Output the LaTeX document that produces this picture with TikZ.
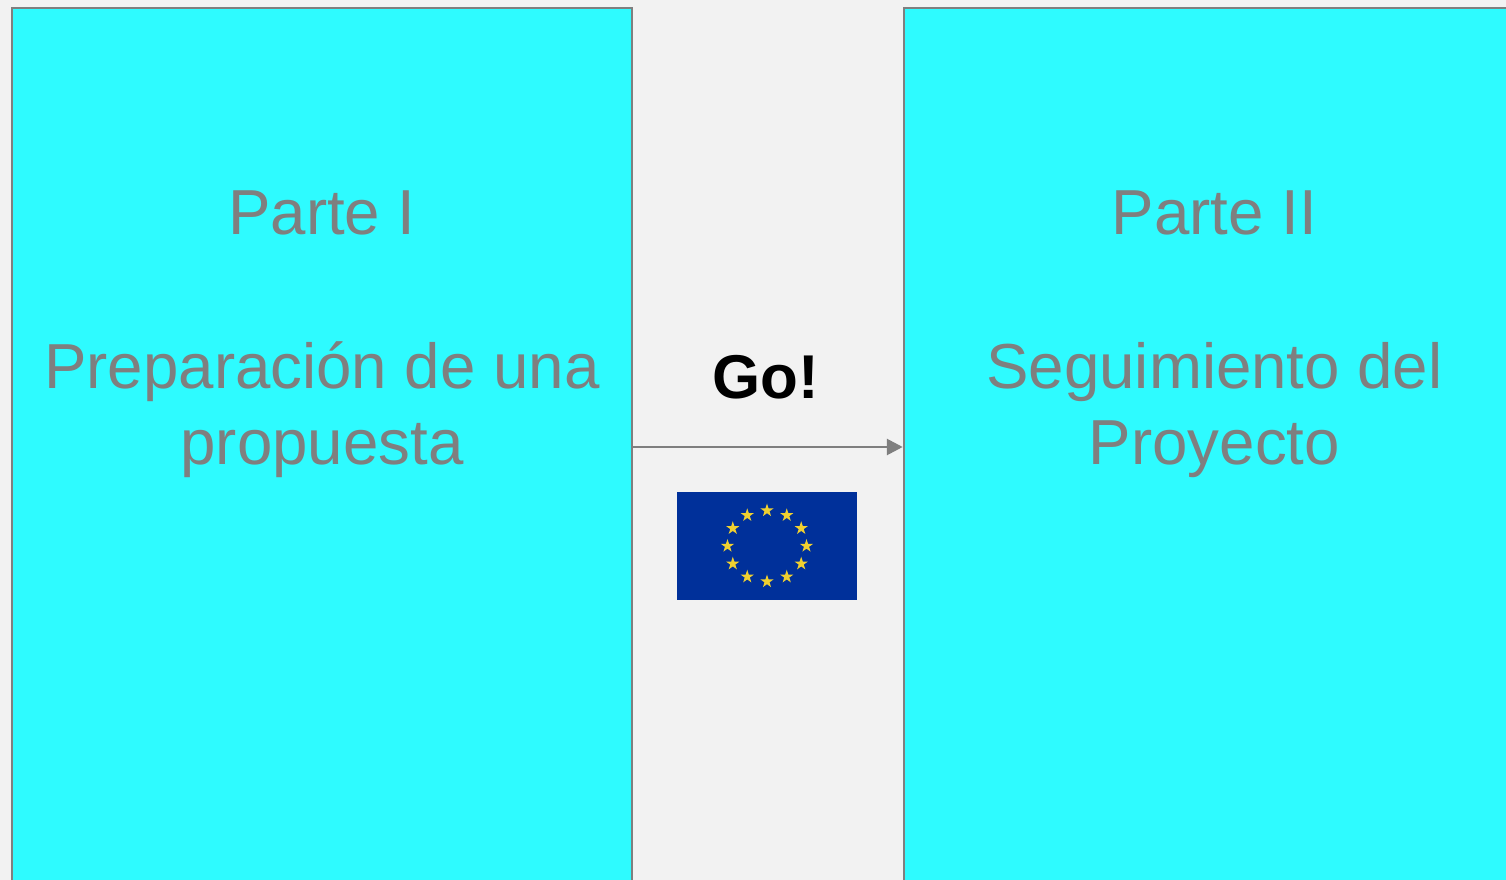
\documentclass[tikz,border=0pt]{standalone}
\usepackage{fontspec}
\setmainfont{Liberation Sans}
\usetikzlibrary{arrows.meta,shapes.geometric,calc}

\definecolor{slidebg}{HTML}{F2F2F2}
\definecolor{boxfill}{HTML}{2EFBFF}
\definecolor{boxline}{HTML}{7F7F7F}
\definecolor{flagblue}{HTML}{00309A}
\definecolor{flagstar}{HTML}{F0D030}

\tikzset{
  partbox/.style={draw=boxline, fill=boxfill, line width=0.025cm, minimum width=6.2cm, minimum height=8.78cm, inner sep=0pt},
  parttext/.style={text=boxline, align=center, font=\fontsize{18.1}{21.8}\selectfont, inner sep=0pt},
  flagstarnode/.style={star, star points=5, star point ratio=2.618, fill=flagstar, minimum size=0.14cm, inner sep=0pt}
}

\begin{document}
\begin{tikzpicture}

\useasboundingbox (0,0) rectangle (15.06,8.8);
\fill[slidebg] (0,0) rectangle (15.06,8.8);

\node(prep)[partbox] at (3.22, 4.33) {};
\node(follow)[partbox] at (12.14, 4.33) {};

\node(preptext)[parttext] at (3.22, 5.455) {Parte I\\[21.8pt]Preparación de una\\propuesta};
\node(followtext)[parttext] at (12.145, 5.455) {Parte II\\[21.8pt]Seguimiento del\\Proyecto};

\draw[boxline, line width=0.028cm, -{Triangle[length=0.16cm, width=0.16cm]}] (prep.east) -- (follow.west);

\node(go)[font=\bfseries\fontsize{17.6}{20}\selectfont, inner sep=0pt] at (7.655, 5.03) {Go!};

\node(flag)[fill=flagblue, minimum width=1.805cm, minimum height=1.075cm, inner sep=0pt] at (7.67, 3.34) {};

\foreach \a in {0,30,...,330}
  \node(star\a)[flagstarnode] at ($(flag.center)+({0.395*cos(\a)},{0.355*sin(\a)})$) {};

\end{tikzpicture}
\end{document}
